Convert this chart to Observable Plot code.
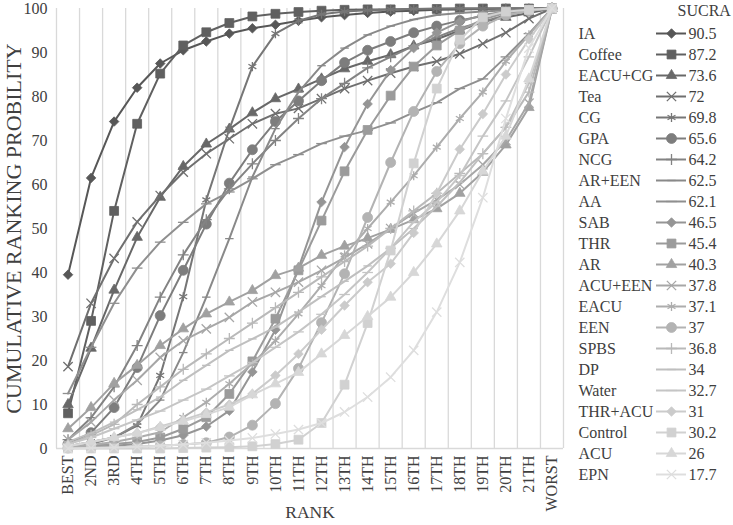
<!DOCTYPE html>
<html>
<head>
<meta charset="utf-8">
<script src="https://cdn.jsdelivr.net/npm/d3@7"></script>
<script src="https://cdn.jsdelivr.net/npm/@observablehq/plot@0.6"></script>
<style>
  html, body { margin: 0; padding: 0; background: #fff; }
  #wrap { display: flex; flex-direction: row; width: 733px; height: 525px; overflow: hidden; }
</style>
</head>
<body>
<div id="wrap"></div>
<script>
// ---------- data ----------
const rankLabels = ["BEST","2ND","3RD","4TH","5TH","6TH","7TH","8TH","9TH","10TH","11TH","12TH","13TH","14TH","15TH","16TH","17TH","18TH","19TH","20TH","21TH","WORST"];
const yTicks = [0,10,20,30,40,50,60,70,80,90,100];
const treatments = ["IA","Coffee","EACU+CG","Tea","CG","GPA","NCG","AR+EEN","AA","SAB","THR","AR","ACU+EEN","EACU","EEN","SPBS","DP","Water","THR+ACU","Control","ACU","EPN"];
const sucra = [90.5,87.2,73.6,72,69.8,65.6,64.2,62.5,62.1,46.5,45.4,40.3,37.8,37.1,37,36.8,34,32.7,31,30.2,26,17.7];

const IA      = [39.5,61.5,74.3,82,87.5,90.5,92.5,94.3,95.5,96.3,97.2,98,98.5,99,99.3,99.5,99.7,99.8,99.9,100,100,100];
const Coffee  = [8,29,54,73.8,85.2,91.6,94.6,96.7,98.2,98.8,99.2,99.5,99.7,99.8,99.8,99.9,99.9,100,100,100,100,100];
const EACU_CG = [10,22.8,36,48,57.1,64.1,69.2,72.6,76.3,79.5,81.7,84,86.3,88,89.5,91.5,93,95,97,98,99,100];
const Tea     = [18.6,33,43.2,51.5,57.5,62.8,67,70.4,73.8,76.1,77.3,79.5,81.8,83.6,85.3,86.8,88,89.7,92,94.5,97.7,100];
const CG      = [0.5,1.5,2.5,5.2,16.6,34.5,56.5,72.6,86.8,94.3,97.2,98.7,99.3,99.6,99.8,99.9,100,100,100,100,100,100];
const GPA     = [1,3.6,9.3,18.4,30.2,40.5,51,60.3,67.9,74.3,79,83.6,87.7,90.5,92.5,94.5,96,97.3,98.3,99,99.5,100];
const NCG     = [2,7,14,23.4,34.4,44,52,59,64.7,70,75,79.5,83,86.5,89,91.5,93.5,95.5,97,98.5,99.5,100];
const AR_EEN  = [0.3,1,2.5,5.5,11,21.8,34.4,47.7,61.7,72.7,81,87,91,94,96,97.5,98.5,99,99.3,99.6,99.8,100];
const AA      = [12.5,23,33,41,46.9,51.4,55.6,58.3,61.3,64.5,66.8,69.3,71,72.3,74,76.4,78.6,81.8,84,89,94.3,100];
const SAB     = [0.2,0.4,0.6,1,1.8,3,5,8.6,17.4,27,41,56,68.5,78.3,86,91,94.5,97,98.5,99.3,99.7,100];
const THR     = [0.3,0.6,1,1.5,2.5,4.5,7.1,12.4,19.8,29.5,40.5,51.8,63,72.4,80.2,86.8,91.6,95,97.5,99,99.7,100];
const AR      = [4.5,9.3,14.8,18.9,23.4,27.2,30.6,33.3,35.9,39.3,41,43.9,46,47.8,49.8,52,54.5,58,62.8,69,77.5,100];
const ACU_EEN = [2,6,11,15.5,20.7,24.5,27.2,29.8,33.3,35.5,37.8,40.5,43.4,46.5,50,53.5,56.5,60,64.5,70,78.5,100];
const EACU    = [0.3,0.8,1.5,2.5,3.7,7.1,10.5,14.7,19.3,24.5,30.6,37,44,50,56,62,68.5,75,81,88,94,100];
const EEN     = [0.1,0.2,0.3,0.4,0.6,0.9,1.3,2.6,5.3,10.2,18.2,28.6,39.7,52.5,65,76.6,85.7,92,96,98.5,99.5,100];
const SPBS    = [1,3,5.5,10,14,18,21.5,25,28.5,32,35.5,39,42.5,46,50,54,58,62.5,67,73,81,100];
const DP      = [1.5,3.5,6,8.8,11.7,15.5,18.9,22.3,24.9,27.6,31,34.5,38,41.5,45.5,50,55,60.5,67,73,83,100];
const Water   = [1,2.5,4.5,6.5,8.5,11,13.5,16.5,19.5,23,26.5,30.5,35,40,45.5,51.5,56,62,71,79,89,100];
const THR_ACU = [0.5,1.5,2.5,3.5,5,6.5,8.2,10,12.4,16.6,21.5,27,32.5,37.8,42,49,58,68,76,85,93,100];
const Control = [0,0,0,0,0,0.1,0.2,0.3,0.5,1,2,5.8,14.5,28.5,45,64.8,81.8,92.9,98,99.3,99.7,100];
const ACU     = [0.5,1.5,2.5,3.5,4.8,6.2,7.7,9.4,12.2,14.7,17.3,21.5,25.7,30,34.4,40,46.5,54,63,71,84,100];
const EPN     = [0,0.1,0.2,0.4,0.6,0.9,1.3,1.8,2.4,3.3,4.3,5.8,8.3,11.7,16.2,22.3,31,42.3,57,75,91,100];

const seriesValues = [IA,Coffee,EACU_CG,Tea,CG,GPA,NCG,AR_EEN,AA,SAB,THR,AR,ACU_EEN,EACU,EEN,SPBS,DP,Water,THR_ACU,Control,ACU,EPN];

// ---------- styles ----------
const grays = ["#575757","#606060","#686868","#6f6f6f","#767676","#7d7d7d","#838383","#898989","#8f8f8f","#959595","#9b9b9b","#a1a1a1","#a7a7a7","#adadad","#b3b3b3","#b9b9b9","#bfbfbf","#c5c5c5","#cbcbcb","#d1d1d1","#d7d7d7","#dedede"];
const dash = {draw(ctx, size) { const w = Math.sqrt(size) * 0.6; ctx.moveTo(-w, 0); ctx.lineTo(w, 0); }};
const longDash = {draw(ctx, size) { const w = Math.sqrt(size) * 0.75; ctx.moveTo(-w, 0); ctx.lineTo(w, 0); }};
const markerCycle = [
  {symbol: d3.symbolDiamond2, r: 4.3, filled: true},
  {symbol: d3.symbolSquare, r: 5.0, filled: true},
  {symbol: d3.symbolTriangle, r: 3.9, filled: true},
  {symbol: d3.symbolTimes, r: 4.3, filled: false},
  {symbol: d3.symbolAsterisk, r: 4.3, filled: false},
  {symbol: d3.symbolCircle, r: 5.0, filled: true},
  {symbol: d3.symbolPlus, r: 3.6, filled: false},
  {symbol: dash, r: 4.0, filled: false},
  {symbol: longDash, r: 4.0, filled: false}
];
const styleOf = (i) => markerCycle[i % 9];

const rows = treatments.map((name, s) => seriesValues[s].map((v, i) => ({name, rank: i + 1, value: v})));
const rankNums = rankLabels.map((_, i) => i + 1);
const gridPos = rankNums.map(r => r - 0.5).concat([rankNums.length + 0.5]);

const txt = "#404040";
const font = "'Liberation Serif', 'Times New Roman', serif";

// ---------- main chart ----------
const marks = [
  Plot.ruleX(gridPos, {x: d => d, stroke: "#d9d9d9", strokeWidth: 1.3}),
  Plot.ruleY([0], {stroke: "#d9d9d9", strokeWidth: 1.3}),
  Plot.axisY({ticks: yTicks, tickSize: 0, tickPadding: 9, label: null, fill: txt}),
  Plot.axisX({ticks: rankNums, tickFormat: d => rankLabels[d - 1], tickRotate: -90, tickSize: 0, tickPadding: 7, label: null, fill: txt}),
  Plot.text(["CUMULATIVE RANKING PROBILITY"], {frameAnchor: "left", dx: -43, rotate: -90, textAnchor: "middle", lineAnchor: "middle", text: d => d, fill: txt, fontSize: 22}),
  Plot.text(["RANK"], {frameAnchor: "bottom", dy: 64, textAnchor: "middle", lineAnchor: "middle", text: d => d, fill: txt, fontSize: 17.5})
];
rows.forEach((data, s) => {
  const c = grays[s], st = styleOf(s);
  marks.push(Plot.line(data, {x: "rank", y: "value", stroke: c, strokeWidth: 2}));
  marks.push(Plot.dot(data, {x: "rank", y: "value", symbol: st.symbol, r: st.r,
    fill: st.filled ? c : "none", stroke: c, strokeWidth: st.filled ? 0.8 : 1.3}));
});

const chart = Plot.plot({
  width: 570, height: 525,
  marginLeft: 56, marginRight: 7, marginTop: 8, marginBottom: 77,
  style: {fontFamily: font, fontSize: "16px", background: "#fff", color: txt, overflow: "visible"},
  x: {domain: [0.5, rankNums.length + 0.5], axis: null},
  y: {domain: [0, 100], axis: null},
  marks
});

// ---------- legend ----------
const legendRows = treatments.map((name, i) => ({name, value: sucra[i], i}));
const legendMarks = [
  Plot.text(["SUCRA"], {frameAnchor: "top-left", dx: 107, dy: 10, lineAnchor: "middle", textAnchor: "start", text: d => d, fill: txt}),
  Plot.text(legendRows, {y: "name", frameAnchor: "left", dx: 8, textAnchor: "start", lineAnchor: "middle", text: "name", fill: txt}),
  Plot.text(legendRows, {y: "name", frameAnchor: "left", dx: 118, textAnchor: "start", lineAnchor: "middle", text: d => String(d.value), fill: txt})
];
legendRows.forEach((d) => {
  const c = grays[d.i], st = styleOf(d.i);
  legendMarks.push(Plot.ruleY([d], {y: "name", x1: 86, x2: 116, stroke: c, strokeWidth: 2}));
  legendMarks.push(Plot.dot([d], {y: "name", x: () => 101, symbol: st.symbol, r: st.r,
    fill: st.filled ? c : "none", stroke: c, strokeWidth: st.filled ? 0.8 : 1.3}));
});
const legend = Plot.plot({
  width: 163, height: 525, margin: 0,
  style: {fontFamily: font, fontSize: "16px", background: "#fff", color: txt, overflow: "visible"},
  x: {type: "linear", domain: [0, 163], range: [0, 163], axis: null},
  y: {type: "point", domain: treatments, range: [27, 480], padding: 0, axis: null},
  marks: legendMarks
});

const wrap = document.getElementById("wrap");
wrap.appendChild(chart);
wrap.appendChild(legend);
</script>
</body>
</html>
